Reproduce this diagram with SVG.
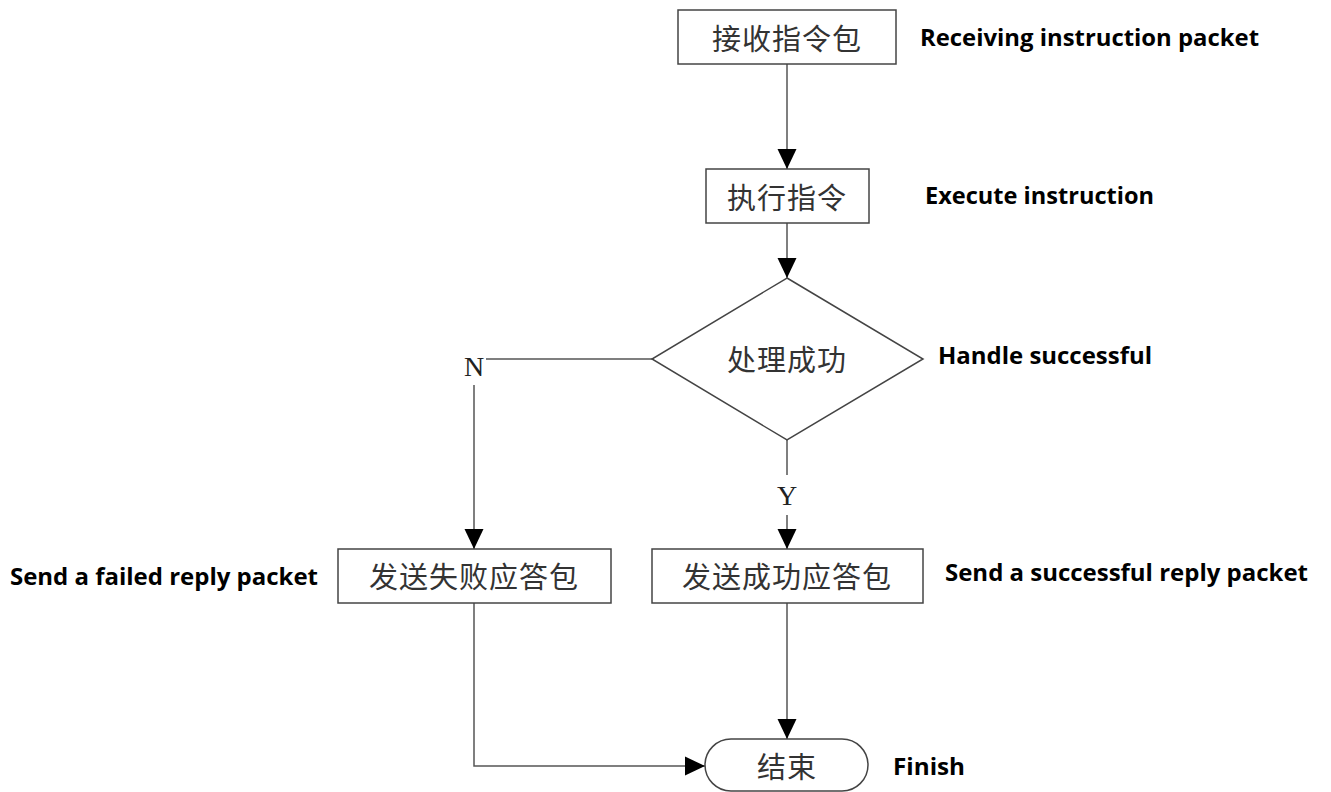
<svg xmlns="http://www.w3.org/2000/svg" width="1331" height="792" viewBox="0 0 1331 792">
<style>
.box{fill:#fff;stroke:#444;stroke-width:1.5}
.cn{font-family:"Noto Sans CJK SC",sans-serif;font-size:29px;fill:#333;text-anchor:middle;dominant-baseline:central;letter-spacing:1px}
.en{font-family:"Open Sans","Liberation Sans",sans-serif;font-weight:bold;font-size:24px;fill:#000}
.yn{font-family:"Liberation Serif",serif;font-size:28px;fill:#222;text-anchor:middle}
.conn{fill:none;stroke:#555;stroke-width:1.5}
</style>
<defs>
<marker id="arr" markerUnits="userSpaceOnUse" markerWidth="20" markerHeight="20" refX="20" refY="10" orient="auto" viewBox="0 0 20 20">
<path d="M0,0.5 L20,10 L0,19.5 z" fill="#000"/>
</marker>
</defs>
<rect width="1331" height="792" fill="#fff"/>
<g id="connectors">
<line class="conn" x1="787" y1="64" x2="787" y2="169" marker-end="url(#arr)"/>
<line class="conn" x1="787" y1="223" x2="787" y2="278" marker-end="url(#arr)"/>
<line class="conn" x1="787" y1="440" x2="787" y2="475"/>
<line class="conn" x1="787" y1="515" x2="787" y2="549" marker-end="url(#arr)"/>
<line class="conn" x1="652" y1="359" x2="486" y2="359"/>
<line class="conn" x1="474" y1="385" x2="474" y2="549" marker-end="url(#arr)"/>
<line class="conn" x1="787" y1="603" x2="787" y2="739" marker-end="url(#arr)"/>
<polyline class="conn" points="474,603 474,766 705,766" marker-end="url(#arr)"/>
<text class="yn" x="474" y="376">N</text>
<text class="yn" x="787" y="505">Y</text>
</g>
<g id="receive">
<rect class="box" x="678" y="10" width="218" height="54"/>
<text class="cn" x="787" y="37">接收指令包</text>
<text class="en" x="920" y="46" textLength="339" lengthAdjust="spacingAndGlyphs">Receiving instruction packet</text>
</g>
<g id="execute">
<rect class="box" x="706" y="169" width="163" height="54"/>
<text class="cn" x="787" y="196">执行指令</text>
<text class="en" x="925" y="204" textLength="229" lengthAdjust="spacingAndGlyphs">Execute instruction</text>
</g>
<g id="decision">
<polygon class="box" points="787,278 923,359 787,440 652,359"/>
<text class="cn" x="787" y="358">处理成功</text>
<text class="en" x="938" y="364" textLength="214" lengthAdjust="spacingAndGlyphs">Handle successful</text>
</g>
<g id="fail">
<rect class="box" x="338" y="549" width="273" height="54"/>
<text class="cn" x="474" y="575">发送失败应答包</text>
<text class="en" x="10" y="585" textLength="308" lengthAdjust="spacingAndGlyphs">Send a failed reply packet</text>
</g>
<g id="success">
<rect class="box" x="652" y="549" width="271" height="54"/>
<text class="cn" x="787" y="575">发送成功应答包</text>
<text class="en" x="945" y="581" textLength="363" lengthAdjust="spacingAndGlyphs">Send a successful reply packet</text>
</g>
<g id="finish">
<path class="box" d="M731,739 H842 A26,26 0 0 1 842,791 H731 A26,26 0 0 1 731,739 Z"/>
<text class="cn" x="787" y="765">结束</text>
<text class="en" x="893" y="775" textLength="72" lengthAdjust="spacingAndGlyphs">Finish</text>
</g>
</svg>
